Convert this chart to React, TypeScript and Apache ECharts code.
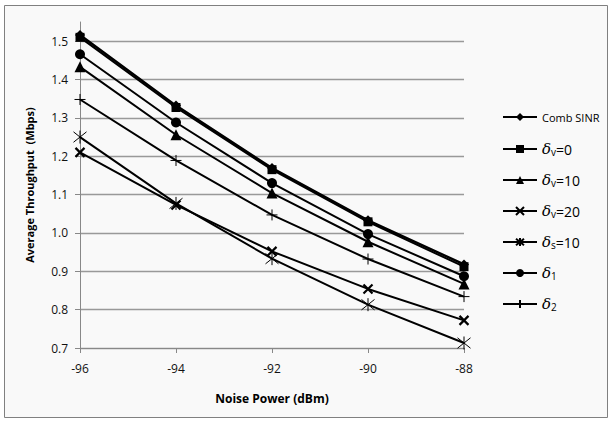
import React, { useEffect, useRef } from "react";
import * as echarts from "echarts";

const noisePower = [-96, -94, -92, -90, -88];
const seriesNames = ["Comb SINR", "δv=0", "δv=10", "δv=20", "δs=10", "δ1", "δ2"];
const combSinr = [1.516, 1.332, 1.169, 1.033, 0.918];
const dv0 = [1.51, 1.327, 1.165, 1.029, 0.912];
const dv10 = [1.433, 1.256, 1.104, 0.977, 0.867];
const dv20 = [1.21, 1.073, 0.952, 0.854, 0.772];
const ds10 = [1.25, 1.077, 0.933, 0.813, 0.713];
const d1 = [1.466, 1.288, 1.13, 0.997, 0.887];
const d2 = [1.348, 1.189, 1.047, 0.932, 0.834];
const yTicks = [0.7, 0.8, 0.9, 1.0, 1.1, 1.2, 1.3, 1.4, 1.5];
const xTicks = [-96, -94, -92, -90, -88];

const X_SYM = "path://M0,0L10,10M10,0L0,10";
const STAR_SYM = "path://M5,0L5,10M1,1L9,9M9,1L1,9";
const PLUS_SYM = "path://M5,0L5,10M0,5L10,5";

const FONT = "'Open Sans', 'Noto Sans', sans-serif";

export default function App() {
  const ref = useRef<HTMLDivElement>(null);
  useEffect(() => {
    if (!ref.current) return;
    const chart = echarts.init(ref.current, null, { renderer: "svg" });
    const values = [combSinr, dv0, dv10, dv20, ds10, d1, d2];
    const symbols = ["diamond", "rect", "triangle", X_SYM, STAR_SYM, "circle", PLUS_SYM];
    const sizes = [10, 9, 11, 9, 13, 10, 11];
    const borderWidths = [0, 0, 0, 2.2, 1, 0, 1];
    const series = seriesNames.map((name, i) => ({
      name,
      type: "line",
      data: noisePower.map((x, j) => [x, values[i][j]]),
      symbol: symbols[i],
      symbolSize: sizes[i],
      showSymbol: true,
      lineStyle: { color: "#000", width: i === 0 ? 2.4 : 2 },
      itemStyle: {
        color: "#000",
        borderColor: "#000",
        borderWidth: borderWidths[i],
      },
    }));

    const formatLegend = (name: string) => {
      if (name === "Comb SINR") return "{c|Comb SINR}";
      const sub = name.charAt(1);
      const rest = name.slice(2);
      return "{d|δ}{s|" + sub + "}" + "{n|" + rest + "}";
    };

    const legends = seriesNames.map((name, i) => ({
      orient: "vertical",
      left: 497,
      top: 105 + i * 31,
      itemWidth: 34,
      itemHeight: 10,
      data: [name],
      formatter: formatLegend,
      selectedMode: false,
      textStyle: {
        fontFamily: FONT,
        color: "#000",
        lineHeight: 14,
        height: 14,
        rich: {
          c: { fontFamily: FONT, fontSize: 11, color: "#000", lineHeight: 14 },
          d: { fontFamily: "'DejaVu Serif', serif", fontStyle: "italic", fontSize: 15, color: "#000", lineHeight: 14 },
          s: { fontFamily: FONT, fontSize: 10, color: "#000", lineHeight: 8, padding: [6, 0, 0, 0] },
          n: { fontFamily: FONT, fontSize: 14, color: "#000", lineHeight: 14 },
        },
      },
    }));

    chart.setOption({
      animation: false,
      backgroundColor: "#ffffff",
      graphic: [
        {
          type: "rect",
          shape: { x: 4.5, y: 5.5, width: 603, height: 412 },
          style: { fill: "#f9f9f9", stroke: "#808080", lineWidth: 1 },
          z: -10,
          silent: true,
        },
      ],
      grid: { left: 80, right: 147, top: 22, bottom: 73 },
      xAxis: {
        type: "value",
        min: -96,
        max: -88,
        interval: 2,
        name: "Noise Power (dBm)",
        nameLocation: "middle",
        nameGap: 44,
        nameTextStyle: { fontFamily: FONT, fontWeight: "bold", fontSize: 12, color: "#000" },
        axisLine: { show: true, onZero: false, lineStyle: { color: "#888", width: 1 } },
        axisTick: { show: true, length: 5, inside: false, customValues: xTicks, lineStyle: { color: "#888" } },
        axisLabel: { fontFamily: FONT, fontSize: 12, color: "#111", margin: 14, customValues: xTicks },
        splitLine: { show: false },
      },
      yAxis: {
        type: "value",
        min: 0.7,
        max: 1.55,
        interval: 0.1,
        name: "Average Throughput  (Mbps)",
        nameLocation: "middle",
        nameGap: 45,
        nameTextStyle: { fontFamily: FONT, fontWeight: "bold", fontSize: 11, color: "#000" },
        axisLine: { show: true, lineStyle: { color: "#888", width: 1 } },
        axisTick: { show: true, length: 5, customValues: yTicks, lineStyle: { color: "#888" } },
        axisLabel: {
          fontFamily: FONT,
          fontSize: 12,
          color: "#111",
          margin: 12,
          customValues: yTicks,
          formatter: (v: number) => v.toFixed(1),
        },
        splitLine: { show: true, lineStyle: { color: "#999", width: 1.3 } },
      },
      legend: legends,
      series,
    });
    return () => chart.dispose();
  }, []);
  return (
    <div
      ref={ref}
      style={{ position: "fixed", left: 0, top: 0, width: 611, height: 421 }}
    />
  );
}
